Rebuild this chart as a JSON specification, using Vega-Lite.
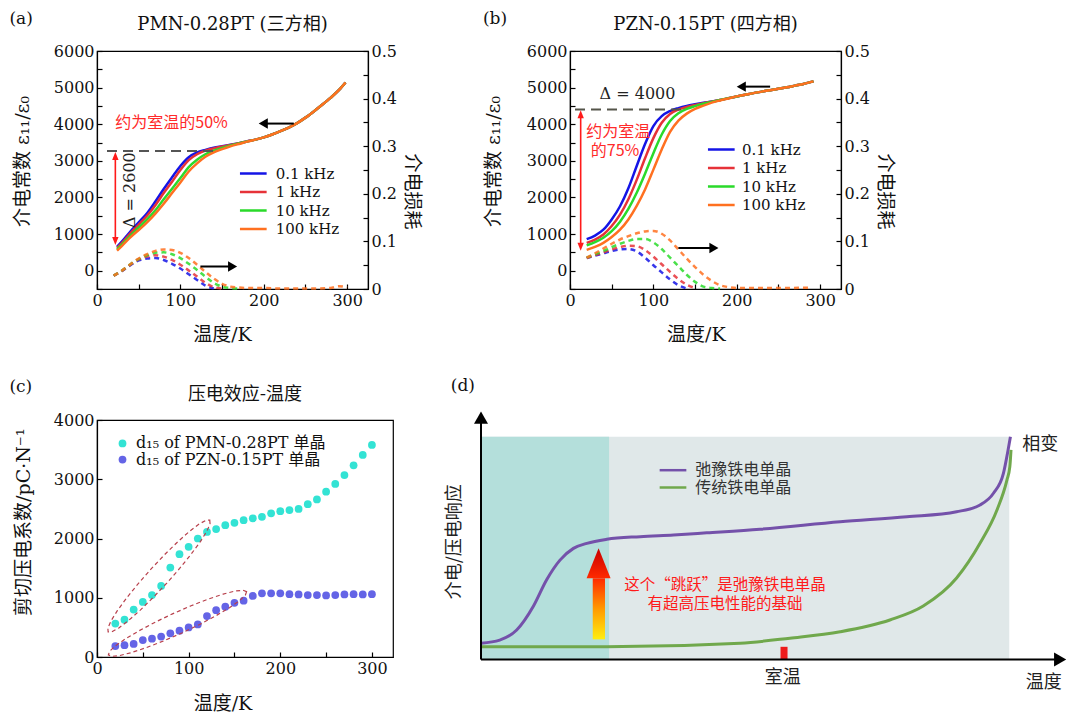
{
"$schema": "https://vega.github.io/schema/vega-lite/v6.json",
"background": "white",
"padding": {"left": 8, "top": 8, "right": 0, "bottom": 0},
"spacing": 31,
"resolve": {"scale": {"x": "independent", "y": "independent", "color": "independent"}, "legend": {"color": "independent"}},
"config": {
  "font": "DejaVu Serif, Noto Sans CJK SC",
  "view": {"stroke": "#000", "strokeWidth": 1.2},
  "axis": {"labelFont": "DejaVu Serif", "labelFontSize": 16, "labelColor": "#111", "titleFont": "DejaVu Serif, Noto Sans CJK SC", "titleFontSize": 19, "titleFontWeight": "normal", "titleColor": "#111", "titleBaseline": "middle", "tickSize": -5, "tickColor": "#000", "tickWidth": 1.2, "domainColor": "#000", "domainWidth": 1.2, "labelPadding": 8, "labelFlush": false, "labelOverlap": false, "grid": false},
  "legend": {"orient": "none", "padding": 0, "labelFont": "DejaVu Serif, Noto Sans CJK SC", "labelFontSize": 15, "labelColor": "#111", "labelOffset": 8, "labelLimit": 400, "rowPadding": 2.5}
},
"datasets": {
"a_eps": [
{"T":24,"eps":650,"f":"0.1 kHz"},{"T":30,"eps":800,"f":"0.1 kHz"},{"T":40,"eps":1070,"f":"0.1 kHz"},{"T":50,"eps":1320,"f":"0.1 kHz"},{"T":60,"eps":1570,"f":"0.1 kHz"},{"T":70,"eps":1890,"f":"0.1 kHz"},{"T":80,"eps":2230,"f":"0.1 kHz"},{"T":90,"eps":2550,"f":"0.1 kHz"},{"T":100,"eps":2860,"f":"0.1 kHz"},{"T":110,"eps":3100,"f":"0.1 kHz"},{"T":120,"eps":3230,"f":"0.1 kHz"},{"T":130,"eps":3300,"f":"0.1 kHz"},{"T":140,"eps":3360,"f":"0.1 kHz"},{"T":150,"eps":3400,"f":"0.1 kHz"},{"T":160,"eps":3440,"f":"0.1 kHz"},{"T":170,"eps":3480,"f":"0.1 kHz"},{"T":180,"eps":3530,"f":"0.1 kHz"},{"T":190,"eps":3580,"f":"0.1 kHz"},{"T":200,"eps":3640,"f":"0.1 kHz"},{"T":210,"eps":3720,"f":"0.1 kHz"},{"T":220,"eps":3810,"f":"0.1 kHz"},{"T":230,"eps":3910,"f":"0.1 kHz"},{"T":240,"eps":4030,"f":"0.1 kHz"},{"T":250,"eps":4180,"f":"0.1 kHz"},{"T":260,"eps":4350,"f":"0.1 kHz"},{"T":270,"eps":4530,"f":"0.1 kHz"},{"T":280,"eps":4720,"f":"0.1 kHz"},{"T":290,"eps":4930,"f":"0.1 kHz"},{"T":298,"eps":5140,"f":"0.1 kHz"},
{"T":24,"eps":620,"f":"1 kHz"},{"T":30,"eps":760,"f":"1 kHz"},{"T":40,"eps":1020,"f":"1 kHz"},{"T":50,"eps":1260,"f":"1 kHz"},{"T":60,"eps":1500,"f":"1 kHz"},{"T":70,"eps":1790,"f":"1 kHz"},{"T":80,"eps":2120,"f":"1 kHz"},{"T":90,"eps":2430,"f":"1 kHz"},{"T":100,"eps":2750,"f":"1 kHz"},{"T":110,"eps":3020,"f":"1 kHz"},{"T":120,"eps":3180,"f":"1 kHz"},{"T":130,"eps":3280,"f":"1 kHz"},{"T":140,"eps":3340,"f":"1 kHz"},{"T":150,"eps":3390,"f":"1 kHz"},{"T":160,"eps":3435,"f":"1 kHz"},{"T":170,"eps":3480,"f":"1 kHz"},{"T":180,"eps":3530,"f":"1 kHz"},{"T":190,"eps":3580,"f":"1 kHz"},{"T":200,"eps":3640,"f":"1 kHz"},{"T":210,"eps":3720,"f":"1 kHz"},{"T":220,"eps":3810,"f":"1 kHz"},{"T":230,"eps":3910,"f":"1 kHz"},{"T":240,"eps":4030,"f":"1 kHz"},{"T":250,"eps":4180,"f":"1 kHz"},{"T":260,"eps":4350,"f":"1 kHz"},{"T":270,"eps":4530,"f":"1 kHz"},{"T":280,"eps":4720,"f":"1 kHz"},{"T":290,"eps":4930,"f":"1 kHz"},{"T":298,"eps":5140,"f":"1 kHz"},
{"T":24,"eps":590,"f":"10 kHz"},{"T":30,"eps":720,"f":"10 kHz"},{"T":40,"eps":960,"f":"10 kHz"},{"T":50,"eps":1180,"f":"10 kHz"},{"T":60,"eps":1400,"f":"10 kHz"},{"T":70,"eps":1650,"f":"10 kHz"},{"T":80,"eps":1950,"f":"10 kHz"},{"T":90,"eps":2240,"f":"10 kHz"},{"T":100,"eps":2530,"f":"10 kHz"},{"T":110,"eps":2830,"f":"10 kHz"},{"T":120,"eps":3030,"f":"10 kHz"},{"T":130,"eps":3180,"f":"10 kHz"},{"T":140,"eps":3280,"f":"10 kHz"},{"T":150,"eps":3355,"f":"10 kHz"},{"T":160,"eps":3420,"f":"10 kHz"},{"T":170,"eps":3475,"f":"10 kHz"},{"T":180,"eps":3530,"f":"10 kHz"},{"T":190,"eps":3580,"f":"10 kHz"},{"T":200,"eps":3640,"f":"10 kHz"},{"T":210,"eps":3720,"f":"10 kHz"},{"T":220,"eps":3810,"f":"10 kHz"},{"T":230,"eps":3910,"f":"10 kHz"},{"T":240,"eps":4030,"f":"10 kHz"},{"T":250,"eps":4180,"f":"10 kHz"},{"T":260,"eps":4350,"f":"10 kHz"},{"T":270,"eps":4530,"f":"10 kHz"},{"T":280,"eps":4720,"f":"10 kHz"},{"T":290,"eps":4930,"f":"10 kHz"},{"T":298,"eps":5140,"f":"10 kHz"},
{"T":24,"eps":550,"f":"100 kHz"},{"T":30,"eps":680,"f":"100 kHz"},{"T":40,"eps":910,"f":"100 kHz"},{"T":50,"eps":1110,"f":"100 kHz"},{"T":60,"eps":1320,"f":"100 kHz"},{"T":70,"eps":1560,"f":"100 kHz"},{"T":80,"eps":1830,"f":"100 kHz"},{"T":90,"eps":2120,"f":"100 kHz"},{"T":100,"eps":2410,"f":"100 kHz"},{"T":110,"eps":2710,"f":"100 kHz"},{"T":120,"eps":2930,"f":"100 kHz"},{"T":130,"eps":3110,"f":"100 kHz"},{"T":140,"eps":3230,"f":"100 kHz"},{"T":150,"eps":3320,"f":"100 kHz"},{"T":160,"eps":3400,"f":"100 kHz"},{"T":170,"eps":3460,"f":"100 kHz"},{"T":180,"eps":3525,"f":"100 kHz"},{"T":190,"eps":3580,"f":"100 kHz"},{"T":200,"eps":3640,"f":"100 kHz"},{"T":210,"eps":3720,"f":"100 kHz"},{"T":220,"eps":3810,"f":"100 kHz"},{"T":230,"eps":3910,"f":"100 kHz"},{"T":240,"eps":4030,"f":"100 kHz"},{"T":250,"eps":4180,"f":"100 kHz"},{"T":260,"eps":4350,"f":"100 kHz"},{"T":270,"eps":4530,"f":"100 kHz"},{"T":280,"eps":4720,"f":"100 kHz"},{"T":290,"eps":4930,"f":"100 kHz"},{"T":298,"eps":5140,"f":"100 kHz"}
],
"a_loss": [
{"T":20,"loss":0.028,"f":"0.1 kHz"},{"T":30,"loss":0.038,"f":"0.1 kHz"},{"T":40,"loss":0.05,"f":"0.1 kHz"},{"T":50,"loss":0.06,"f":"0.1 kHz"},{"T":60,"loss":0.064,"f":"0.1 kHz"},{"T":70,"loss":0.065,"f":"0.1 kHz"},{"T":80,"loss":0.061,"f":"0.1 kHz"},{"T":90,"loss":0.053,"f":"0.1 kHz"},{"T":100,"loss":0.043,"f":"0.1 kHz"},{"T":110,"loss":0.031,"f":"0.1 kHz"},{"T":120,"loss":0.019,"f":"0.1 kHz"},{"T":130,"loss":0.007,"f":"0.1 kHz"},{"T":140,"loss":0.001,"f":"0.1 kHz"},
{"T":20,"loss":0.028,"f":"1 kHz"},{"T":30,"loss":0.038,"f":"1 kHz"},{"T":40,"loss":0.051,"f":"1 kHz"},{"T":50,"loss":0.062,"f":"1 kHz"},{"T":60,"loss":0.068,"f":"1 kHz"},{"T":70,"loss":0.071,"f":"1 kHz"},{"T":80,"loss":0.068,"f":"1 kHz"},{"T":90,"loss":0.061,"f":"1 kHz"},{"T":100,"loss":0.051,"f":"1 kHz"},{"T":110,"loss":0.039,"f":"1 kHz"},{"T":120,"loss":0.026,"f":"1 kHz"},{"T":130,"loss":0.013,"f":"1 kHz"},{"T":140,"loss":0.004,"f":"1 kHz"},{"T":150,"loss":0.001,"f":"1 kHz"},
{"T":20,"loss":0.028,"f":"10 kHz"},{"T":30,"loss":0.039,"f":"10 kHz"},{"T":40,"loss":0.052,"f":"10 kHz"},{"T":50,"loss":0.063,"f":"10 kHz"},{"T":60,"loss":0.071,"f":"10 kHz"},{"T":70,"loss":0.076,"f":"10 kHz"},{"T":80,"loss":0.077,"f":"10 kHz"},{"T":90,"loss":0.073,"f":"10 kHz"},{"T":100,"loss":0.065,"f":"10 kHz"},{"T":110,"loss":0.053,"f":"10 kHz"},{"T":120,"loss":0.04,"f":"10 kHz"},{"T":130,"loss":0.026,"f":"10 kHz"},{"T":140,"loss":0.013,"f":"10 kHz"},{"T":150,"loss":0.005,"f":"10 kHz"},{"T":160,"loss":0.002,"f":"10 kHz"},{"T":170,"loss":0.001,"f":"10 kHz"},
{"T":20,"loss":0.028,"f":"100 kHz"},{"T":30,"loss":0.039,"f":"100 kHz"},{"T":40,"loss":0.052,"f":"100 kHz"},{"T":50,"loss":0.064,"f":"100 kHz"},{"T":60,"loss":0.073,"f":"100 kHz"},{"T":70,"loss":0.08,"f":"100 kHz"},{"T":80,"loss":0.083,"f":"100 kHz"},{"T":90,"loss":0.082,"f":"100 kHz"},{"T":100,"loss":0.076,"f":"100 kHz"},{"T":110,"loss":0.065,"f":"100 kHz"},{"T":120,"loss":0.051,"f":"100 kHz"},{"T":130,"loss":0.036,"f":"100 kHz"},{"T":140,"loss":0.022,"f":"100 kHz"},{"T":150,"loss":0.011,"f":"100 kHz"},{"T":160,"loss":0.005,"f":"100 kHz"},{"T":170,"loss":0.003,"f":"100 kHz"},{"T":180,"loss":0.002,"f":"100 kHz"},{"T":200,"loss":0.002,"f":"100 kHz"},{"T":220,"loss":0.001,"f":"100 kHz"},{"T":240,"loss":0.001,"f":"100 kHz"},{"T":260,"loss":0.001,"f":"100 kHz"},{"T":280,"loss":0.002,"f":"100 kHz"},{"T":290,"loss":0.006,"f":"100 kHz"},{"T":300,"loss":0.003,"f":"100 kHz"}
],
"b_eps": [
{"T":20,"eps":860,"f":"0.1 kHz"},{"T":30,"eps":960,"f":"0.1 kHz"},{"T":40,"eps":1120,"f":"0.1 kHz"},{"T":50,"eps":1400,"f":"0.1 kHz"},{"T":60,"eps":1760,"f":"0.1 kHz"},{"T":70,"eps":2250,"f":"0.1 kHz"},{"T":80,"eps":2860,"f":"0.1 kHz"},{"T":90,"eps":3460,"f":"0.1 kHz"},{"T":100,"eps":3950,"f":"0.1 kHz"},{"T":110,"eps":4220,"f":"0.1 kHz"},{"T":120,"eps":4360,"f":"0.1 kHz"},{"T":130,"eps":4440,"f":"0.1 kHz"},{"T":140,"eps":4500,"f":"0.1 kHz"},{"T":150,"eps":4545,"f":"0.1 kHz"},{"T":160,"eps":4585,"f":"0.1 kHz"},{"T":170,"eps":4620,"f":"0.1 kHz"},{"T":180,"eps":4660,"f":"0.1 kHz"},{"T":190,"eps":4710,"f":"0.1 kHz"},{"T":200,"eps":4760,"f":"0.1 kHz"},{"T":210,"eps":4805,"f":"0.1 kHz"},{"T":220,"eps":4850,"f":"0.1 kHz"},{"T":230,"eps":4890,"f":"0.1 kHz"},{"T":240,"eps":4930,"f":"0.1 kHz"},{"T":250,"eps":4970,"f":"0.1 kHz"},{"T":260,"eps":5010,"f":"0.1 kHz"},{"T":270,"eps":5055,"f":"0.1 kHz"},{"T":280,"eps":5100,"f":"0.1 kHz"},{"T":292,"eps":5170,"f":"0.1 kHz"},
{"T":20,"eps":760,"f":"1 kHz"},{"T":30,"eps":850,"f":"1 kHz"},{"T":40,"eps":990,"f":"1 kHz"},{"T":50,"eps":1220,"f":"1 kHz"},{"T":60,"eps":1530,"f":"1 kHz"},{"T":70,"eps":1950,"f":"1 kHz"},{"T":80,"eps":2480,"f":"1 kHz"},{"T":90,"eps":3070,"f":"1 kHz"},{"T":100,"eps":3620,"f":"1 kHz"},{"T":110,"eps":4040,"f":"1 kHz"},{"T":120,"eps":4280,"f":"1 kHz"},{"T":130,"eps":4400,"f":"1 kHz"},{"T":140,"eps":4470,"f":"1 kHz"},{"T":150,"eps":4525,"f":"1 kHz"},{"T":160,"eps":4575,"f":"1 kHz"},{"T":170,"eps":4615,"f":"1 kHz"},{"T":180,"eps":4660,"f":"1 kHz"},{"T":190,"eps":4710,"f":"1 kHz"},{"T":200,"eps":4760,"f":"1 kHz"},{"T":210,"eps":4805,"f":"1 kHz"},{"T":220,"eps":4850,"f":"1 kHz"},{"T":230,"eps":4890,"f":"1 kHz"},{"T":240,"eps":4930,"f":"1 kHz"},{"T":250,"eps":4970,"f":"1 kHz"},{"T":260,"eps":5010,"f":"1 kHz"},{"T":270,"eps":5055,"f":"1 kHz"},{"T":280,"eps":5100,"f":"1 kHz"},{"T":292,"eps":5170,"f":"1 kHz"},
{"T":20,"eps":690,"f":"10 kHz"},{"T":30,"eps":780,"f":"10 kHz"},{"T":40,"eps":900,"f":"10 kHz"},{"T":50,"eps":1080,"f":"10 kHz"},{"T":60,"eps":1340,"f":"10 kHz"},{"T":70,"eps":1690,"f":"10 kHz"},{"T":80,"eps":2130,"f":"10 kHz"},{"T":90,"eps":2650,"f":"10 kHz"},{"T":100,"eps":3210,"f":"10 kHz"},{"T":110,"eps":3720,"f":"10 kHz"},{"T":120,"eps":4090,"f":"10 kHz"},{"T":130,"eps":4300,"f":"10 kHz"},{"T":140,"eps":4420,"f":"10 kHz"},{"T":150,"eps":4495,"f":"10 kHz"},{"T":160,"eps":4560,"f":"10 kHz"},{"T":170,"eps":4610,"f":"10 kHz"},{"T":180,"eps":4660,"f":"10 kHz"},{"T":190,"eps":4710,"f":"10 kHz"},{"T":200,"eps":4760,"f":"10 kHz"},{"T":210,"eps":4805,"f":"10 kHz"},{"T":220,"eps":4850,"f":"10 kHz"},{"T":230,"eps":4890,"f":"10 kHz"},{"T":240,"eps":4930,"f":"10 kHz"},{"T":250,"eps":4970,"f":"10 kHz"},{"T":260,"eps":5010,"f":"10 kHz"},{"T":270,"eps":5055,"f":"10 kHz"},{"T":280,"eps":5100,"f":"10 kHz"},{"T":292,"eps":5170,"f":"10 kHz"},
{"T":20,"eps":570,"f":"100 kHz"},{"T":30,"eps":650,"f":"100 kHz"},{"T":40,"eps":760,"f":"100 kHz"},{"T":50,"eps":920,"f":"100 kHz"},{"T":60,"eps":1120,"f":"100 kHz"},{"T":70,"eps":1400,"f":"100 kHz"},{"T":80,"eps":1770,"f":"100 kHz"},{"T":90,"eps":2220,"f":"100 kHz"},{"T":100,"eps":2760,"f":"100 kHz"},{"T":110,"eps":3310,"f":"100 kHz"},{"T":120,"eps":3790,"f":"100 kHz"},{"T":130,"eps":4100,"f":"100 kHz"},{"T":140,"eps":4290,"f":"100 kHz"},{"T":150,"eps":4420,"f":"100 kHz"},{"T":160,"eps":4510,"f":"100 kHz"},{"T":170,"eps":4590,"f":"100 kHz"},{"T":180,"eps":4650,"f":"100 kHz"},{"T":190,"eps":4705,"f":"100 kHz"},{"T":200,"eps":4760,"f":"100 kHz"},{"T":210,"eps":4805,"f":"100 kHz"},{"T":220,"eps":4850,"f":"100 kHz"},{"T":230,"eps":4890,"f":"100 kHz"},{"T":240,"eps":4930,"f":"100 kHz"},{"T":250,"eps":4970,"f":"100 kHz"},{"T":260,"eps":5010,"f":"100 kHz"},{"T":270,"eps":5055,"f":"100 kHz"},{"T":280,"eps":5100,"f":"100 kHz"},{"T":292,"eps":5170,"f":"100 kHz"}
],
"b_loss": [
{"T":20,"loss":0.065,"f":"0.1 kHz"},{"T":30,"loss":0.07,"f":"0.1 kHz"},{"T":40,"loss":0.075,"f":"0.1 kHz"},{"T":50,"loss":0.08,"f":"0.1 kHz"},{"T":60,"loss":0.083,"f":"0.1 kHz"},{"T":70,"loss":0.084,"f":"0.1 kHz"},{"T":80,"loss":0.079,"f":"0.1 kHz"},{"T":90,"loss":0.066,"f":"0.1 kHz"},{"T":100,"loss":0.05,"f":"0.1 kHz"},{"T":110,"loss":0.035,"f":"0.1 kHz"},{"T":120,"loss":0.02,"f":"0.1 kHz"},{"T":130,"loss":0.008,"f":"0.1 kHz"},{"T":140,"loss":0.001,"f":"0.1 kHz"},
{"T":20,"loss":0.065,"f":"1 kHz"},{"T":30,"loss":0.071,"f":"1 kHz"},{"T":40,"loss":0.077,"f":"1 kHz"},{"T":50,"loss":0.083,"f":"1 kHz"},{"T":60,"loss":0.088,"f":"1 kHz"},{"T":70,"loss":0.091,"f":"1 kHz"},{"T":80,"loss":0.09,"f":"1 kHz"},{"T":90,"loss":0.082,"f":"1 kHz"},{"T":100,"loss":0.068,"f":"1 kHz"},{"T":110,"loss":0.052,"f":"1 kHz"},{"T":120,"loss":0.036,"f":"1 kHz"},{"T":130,"loss":0.021,"f":"1 kHz"},{"T":140,"loss":0.009,"f":"1 kHz"},{"T":150,"loss":0.002,"f":"1 kHz"},
{"T":20,"loss":0.066,"f":"10 kHz"},{"T":30,"loss":0.073,"f":"10 kHz"},{"T":40,"loss":0.08,"f":"10 kHz"},{"T":50,"loss":0.088,"f":"10 kHz"},{"T":60,"loss":0.095,"f":"10 kHz"},{"T":70,"loss":0.101,"f":"10 kHz"},{"T":80,"loss":0.105,"f":"10 kHz"},{"T":90,"loss":0.105,"f":"10 kHz"},{"T":100,"loss":0.098,"f":"10 kHz"},{"T":110,"loss":0.084,"f":"10 kHz"},{"T":120,"loss":0.066,"f":"10 kHz"},{"T":130,"loss":0.048,"f":"10 kHz"},{"T":140,"loss":0.03,"f":"10 kHz"},{"T":150,"loss":0.015,"f":"10 kHz"},{"T":160,"loss":0.005,"f":"10 kHz"},{"T":170,"loss":0.002,"f":"10 kHz"},{"T":180,"loss":0.001,"f":"10 kHz"},
{"T":20,"loss":0.066,"f":"100 kHz"},{"T":30,"loss":0.075,"f":"100 kHz"},{"T":40,"loss":0.085,"f":"100 kHz"},{"T":50,"loss":0.095,"f":"100 kHz"},{"T":60,"loss":0.104,"f":"100 kHz"},{"T":70,"loss":0.111,"f":"100 kHz"},{"T":80,"loss":0.117,"f":"100 kHz"},{"T":90,"loss":0.121,"f":"100 kHz"},{"T":100,"loss":0.122,"f":"100 kHz"},{"T":110,"loss":0.116,"f":"100 kHz"},{"T":120,"loss":0.102,"f":"100 kHz"},{"T":130,"loss":0.083,"f":"100 kHz"},{"T":140,"loss":0.064,"f":"100 kHz"},{"T":150,"loss":0.046,"f":"100 kHz"},{"T":160,"loss":0.03,"f":"100 kHz"},{"T":170,"loss":0.017,"f":"100 kHz"},{"T":180,"loss":0.008,"f":"100 kHz"},{"T":190,"loss":0.004,"f":"100 kHz"},{"T":200,"loss":0.002,"f":"100 kHz"},{"T":250,"loss":0.002,"f":"100 kHz"},{"T":290,"loss":0.003,"f":"100 kHz"}
],
"c_d15": [
{"T":20,"d":565,"s":"d₁₅ of PMN-0.28PT 单晶"},{"T":30,"d":630,"s":"d₁₅ of PMN-0.28PT 单晶"},{"T":40,"d":800,"s":"d₁₅ of PMN-0.28PT 单晶"},{"T":50,"d":930,"s":"d₁₅ of PMN-0.28PT 单晶"},{"T":60,"d":1045,"s":"d₁₅ of PMN-0.28PT 单晶"},{"T":70,"d":1200,"s":"d₁₅ of PMN-0.28PT 单晶"},{"T":80,"d":1510,"s":"d₁₅ of PMN-0.28PT 单晶"},{"T":90,"d":1735,"s":"d₁₅ of PMN-0.28PT 单晶"},{"T":100,"d":1860,"s":"d₁₅ of PMN-0.28PT 单晶"},{"T":110,"d":2000,"s":"d₁₅ of PMN-0.28PT 单晶"},{"T":120,"d":2110,"s":"d₁₅ of PMN-0.28PT 单晶"},{"T":130,"d":2160,"s":"d₁₅ of PMN-0.28PT 单晶"},{"T":140,"d":2225,"s":"d₁₅ of PMN-0.28PT 单晶"},{"T":150,"d":2265,"s":"d₁₅ of PMN-0.28PT 单晶"},{"T":160,"d":2310,"s":"d₁₅ of PMN-0.28PT 单晶"},{"T":170,"d":2340,"s":"d₁₅ of PMN-0.28PT 单晶"},{"T":180,"d":2365,"s":"d₁₅ of PMN-0.28PT 单晶"},{"T":190,"d":2425,"s":"d₁₅ of PMN-0.28PT 单晶"},{"T":200,"d":2460,"s":"d₁₅ of PMN-0.28PT 单晶"},{"T":210,"d":2480,"s":"d₁₅ of PMN-0.28PT 单晶"},{"T":220,"d":2500,"s":"d₁₅ of PMN-0.28PT 单晶"},{"T":230,"d":2580,"s":"d₁₅ of PMN-0.28PT 单晶"},{"T":240,"d":2660,"s":"d₁₅ of PMN-0.28PT 单晶"},{"T":250,"d":2790,"s":"d₁₅ of PMN-0.28PT 单晶"},{"T":260,"d":2920,"s":"d₁₅ of PMN-0.28PT 单晶"},{"T":270,"d":3070,"s":"d₁₅ of PMN-0.28PT 单晶"},{"T":280,"d":3235,"s":"d₁₅ of PMN-0.28PT 单晶"},{"T":290,"d":3410,"s":"d₁₅ of PMN-0.28PT 单晶"},{"T":300,"d":3580,"s":"d₁₅ of PMN-0.28PT 单晶"},
{"T":20,"d":185,"s":"d₁₅ of PZN-0.15PT 单晶"},{"T":30,"d":200,"s":"d₁₅ of PZN-0.15PT 单晶"},{"T":40,"d":220,"s":"d₁₅ of PZN-0.15PT 单晶"},{"T":50,"d":285,"s":"d₁₅ of PZN-0.15PT 单晶"},{"T":60,"d":310,"s":"d₁₅ of PZN-0.15PT 单晶"},{"T":70,"d":345,"s":"d₁₅ of PZN-0.15PT 单晶"},{"T":80,"d":400,"s":"d₁₅ of PZN-0.15PT 单晶"},{"T":90,"d":445,"s":"d₁₅ of PZN-0.15PT 单晶"},{"T":100,"d":500,"s":"d₁₅ of PZN-0.15PT 单晶"},{"T":110,"d":550,"s":"d₁₅ of PZN-0.15PT 单晶"},{"T":120,"d":690,"s":"d₁₅ of PZN-0.15PT 单晶"},{"T":130,"d":790,"s":"d₁₅ of PZN-0.15PT 单晶"},{"T":140,"d":850,"s":"d₁₅ of PZN-0.15PT 单晶"},{"T":150,"d":915,"s":"d₁₅ of PZN-0.15PT 单晶"},{"T":160,"d":950,"s":"d₁₅ of PZN-0.15PT 单晶"},{"T":170,"d":1030,"s":"d₁₅ of PZN-0.15PT 单晶"},{"T":180,"d":1075,"s":"d₁₅ of PZN-0.15PT 单晶"},{"T":190,"d":1075,"s":"d₁₅ of PZN-0.15PT 单晶"},{"T":200,"d":1075,"s":"d₁₅ of PZN-0.15PT 单晶"},{"T":210,"d":1060,"s":"d₁₅ of PZN-0.15PT 单晶"},{"T":220,"d":1055,"s":"d₁₅ of PZN-0.15PT 单晶"},{"T":230,"d":1045,"s":"d₁₅ of PZN-0.15PT 单晶"},{"T":240,"d":1045,"s":"d₁₅ of PZN-0.15PT 单晶"},{"T":250,"d":1040,"s":"d₁₅ of PZN-0.15PT 单晶"},{"T":260,"d":1045,"s":"d₁₅ of PZN-0.15PT 单晶"},{"T":270,"d":1055,"s":"d₁₅ of PZN-0.15PT 单晶"},{"T":280,"d":1060,"s":"d₁₅ of PZN-0.15PT 单晶"},{"T":290,"d":1055,"s":"d₁₅ of PZN-0.15PT 单晶"},{"T":300,"d":1060,"s":"d₁₅ of PZN-0.15PT 单晶"}
],
"d_curves": [
{"x":0,"y":6.8,"s":"弛豫铁电单晶"},{"x":3.2,"y":8.1,"s":"弛豫铁电单晶"},{"x":6.1,"y":12.3,"s":"弛豫铁电单晶"},{"x":8.9,"y":22.0,"s":"弛豫铁电单晶"},{"x":11.2,"y":33.2,"s":"弛豫铁电单晶"},{"x":13.5,"y":41.5,"s":"弛豫铁电单晶"},{"x":15.8,"y":46.4,"s":"弛豫铁电单晶"},{"x":18.1,"y":48.5,"s":"弛豫铁电单晶"},{"x":21.5,"y":50.2,"s":"弛豫铁电单晶"},{"x":27.2,"y":51.3,"s":"弛豫铁电单晶"},{"x":32.9,"y":52.0,"s":"弛豫铁电单晶"},{"x":38.6,"y":52.9,"s":"弛豫铁电单晶"},{"x":47.7,"y":54.4,"s":"弛豫铁电单晶"},{"x":61.4,"y":57.5,"s":"弛豫铁电单晶"},{"x":72.8,"y":59.6,"s":"弛豫铁电单晶"},{"x":81.3,"y":61.7,"s":"弛豫铁电单晶"},{"x":85.3,"y":64.5,"s":"弛豫铁电单晶"},{"x":87.6,"y":69.4,"s":"弛豫铁电单晶"},{"x":89.3,"y":77.7,"s":"弛豫铁电单晶"},{"x":90.1,"y":87.5,"s":"弛豫铁电单晶"},{"x":90.5,"y":93.0,"s":"弛豫铁电单晶"},
{"x":0,"y":5.3,"s":"传统铁电单晶"},{"x":21.5,"y":5.3,"s":"传统铁电单晶"},{"x":44.3,"y":6.8,"s":"传统铁电单晶"},{"x":52.8,"y":8.9,"s":"传统铁电单晶"},{"x":61.4,"y":11.6,"s":"传统铁电单晶"},{"x":69.9,"y":16.5,"s":"传统铁电单晶"},{"x":75.6,"y":22.3,"s":"传统铁电单晶"},{"x":81.3,"y":34.0,"s":"传统铁电单晶"},{"x":85.3,"y":48.5,"s":"传统铁电单晶"},{"x":88.2,"y":62.4,"s":"传统铁电单晶"},{"x":89.9,"y":74.9,"s":"传统铁电单晶"},{"x":90.4,"y":80.5,"s":"传统铁电单晶"},{"x":90.6,"y":87.5,"s":"传统铁电单晶"}
]
},
"vconcat": [
{"bounds": "flush", "spacing": 202,
 "resolve": {"scale": {"x": "independent", "y": "independent", "color": "independent"}, "legend": {"color": "independent"}},
 "hconcat": [
 {"width": 271, "height": 238,
  "resolve": {"scale": {"y": "independent"}},
  "layer": [
     {"data": {"name": "a_eps"},
      "mark": {"type": "line", "strokeWidth": 2.5, "interpolate": "monotone"},
      "encoding": {
        "x": {"field": "T", "type": "quantitative", "scale": {"domain": [0, 325], "nice": false},
              "axis": {"title": "温度/K", "values": [0,25,50,75,100,125,150,175,200,225,250,275,300], "labelExpr": "datum.value % 100 === 0 ? datum.label : ''", "titleX": 125, "titleY": 45}},
        "y": {"field": "eps", "type": "quantitative", "scale": {"domain": [-500, 6000], "nice": false},
              "axis": {"title": "介电常数 ε₁₁/ε₀", "orient": "left", "format": "d", "values": [-500,0,500,1000,1500,2000,2500,3000,3500,4000,4500,5000,5500,6000], "labelExpr": "datum.value % 1000 === 0 ? datum.label : ''", "titleX": -75, "titleY": 110}},
        "color": {"field": "f", "type": "nominal", "scale": {"domain": ["0.1 kHz","1 kHz","10 kHz","100 kHz"], "range": ["#1414e6","#e63238","#2ada2a","#ff7020"]},
                  "legend": {"title": null, "legendX": 148.3, "legendY": 114.5, "symbolType": "M-2,0L2,0", "symbolSize": 178, "symbolStrokeWidth": 2.5, "labelOffset": 14.35}}
      }},
     {"data": {"name": "a_loss"},
      "mark": {"type": "line", "strokeWidth": 2.5, "strokeDash": [5, 4], "interpolate": "monotone", "opacity": 0.85},
      "encoding": {
        "x": {"field": "T", "type": "quantitative", "scale": {"domain": [0, 325], "nice": false}},
        "y": {"field": "loss", "type": "quantitative", "scale": {"domain": [0, 0.5], "nice": false},
              "axis": {"title": "介电损耗", "orient": "right", "values": [0,0.05,0.1,0.15,0.2,0.25,0.3,0.35,0.4,0.45,0.5], "labelExpr": "round(datum.value*100) % 10 === 0 ? (datum.value === 0 ? '0' : format(datum.value, '.1f')) : ''", "titleX": 43.5, "titleY": 140}},
        "color": {"field": "f", "type": "nominal", "legend": null}
      }},
     {"data": {"values": [{}]}, "mark": {"type": "rule", "color": "#555555", "strokeDash": [10, 6], "strokeWidth": 2},
      "encoding": {"x": {"datum": 12, "type": "quantitative", "scale": {"domain": [0, 325], "nice": false}}, "x2": {"datum": 140},
                   "y": {"datum": 3270, "type": "quantitative", "scale": {"domain": [-500, 6000], "nice": false}, "axis": null}}},
     {"data": {"values": [{}]}, "mark": {"type": "rule", "color": "#ff1a1a", "strokeWidth": 1.6},
      "encoding": {"x": {"datum": 22, "type": "quantitative", "scale": {"domain": [0, 325], "nice": false}},
                   "y": {"datum": 3131, "type": "quantitative", "scale": {"domain": [-500, 6000], "nice": false}, "axis": null}, "y2": {"datum": 810}}},
     {"data": {"values": [{}]}, "mark": {"type": "point", "shape": "M0,-1L0.8,1L-0.8,1Z", "size": 64, "filled": true, "opacity": 1, "color": "#ff1a1a"},
      "encoding": {"x": {"datum": 22, "type": "quantitative", "scale": {"domain": [0, 325], "nice": false}},
                   "y": {"datum": 3131, "type": "quantitative", "scale": {"domain": [-500, 6000], "nice": false}, "axis": null}}},
     {"data": {"values": [{}]}, "mark": {"type": "point", "shape": "M0,1L0.8,-1L-0.8,-1Z", "size": 64, "filled": true, "opacity": 1, "color": "#ff1a1a"},
      "encoding": {"x": {"datum": 22, "type": "quantitative", "scale": {"domain": [0, 325], "nice": false}},
                   "y": {"datum": 810, "type": "quantitative", "scale": {"domain": [-500, 6000], "nice": false}, "axis": null}}},
     {"data": {"values": [{}]}, "mark": {"type": "text", "text": "Δ = 2600", "angle": 270, "font": "DejaVu Serif", "fontSize": 16, "color": "#222", "align": "center", "baseline": "middle"},
      "encoding": {"x": {"datum": 39, "type": "quantitative", "scale": {"domain": [0, 325], "nice": false}},
                   "y": {"datum": 2200, "type": "quantitative", "scale": {"domain": [-500, 6000], "nice": false}, "axis": null}}},
     {"data": {"values": [{}]}, "mark": {"type": "text", "text": "约为室温的50%", "font": "Noto Sans CJK SC", "fontSize": 16, "color": "#ff2a2a", "align": "left", "baseline": "middle"},
      "encoding": {"x": {"datum": 22, "type": "quantitative", "scale": {"domain": [0, 325], "nice": false}},
                   "y": {"datum": 4045, "type": "quantitative", "scale": {"domain": [-500, 6000], "nice": false}, "axis": null}}},
     {"data": {"values": [{}]}, "mark": {"type": "rule", "color": "#000", "strokeWidth": 2},
      "encoding": {"x": {"datum": 199, "type": "quantitative", "scale": {"domain": [0, 325], "nice": false}}, "x2": {"datum": 236},
                   "y": {"datum": 4018, "type": "quantitative", "scale": {"domain": [-500, 6000], "nice": false}, "axis": null}}},
     {"data": {"values": [{}]}, "mark": {"type": "point", "shape": "triangle-left", "size": 110, "filled": true, "opacity": 1, "color": "#000"},
      "encoding": {"x": {"datum": 199.4, "type": "quantitative", "scale": {"domain": [0, 325], "nice": false}},
                   "y": {"datum": 4018, "type": "quantitative", "scale": {"domain": [-500, 6000], "nice": false}, "axis": null}}},
     {"data": {"values": [{}]}, "mark": {"type": "rule", "color": "#000", "strokeWidth": 2},
      "encoding": {"x": {"datum": 124, "type": "quantitative", "scale": {"domain": [0, 325], "nice": false}}, "x2": {"datum": 163},
                   "y": {"datum": 117, "type": "quantitative", "scale": {"domain": [-500, 6000], "nice": false}, "axis": null}}},
     {"data": {"values": [{}]}, "mark": {"type": "point", "shape": "triangle-right", "size": 110, "filled": true, "opacity": 1, "color": "#000"},
      "encoding": {"x": {"datum": 162.6, "type": "quantitative", "scale": {"domain": [0, 325], "nice": false}},
                   "y": {"datum": 117, "type": "quantitative", "scale": {"domain": [-500, 6000], "nice": false}, "axis": null}}},
     {"data": {"values": [{}]}, "mark": {"type": "text", "text": "PMN-0.28PT (三方相)", "font": "DejaVu Serif, Noto Sans CJK SC", "fontSize": 18, "color": "#111", "align": "center", "baseline": "middle"},
      "encoding": {"x": {"datum": 162.5, "type": "quantitative", "scale": {"domain": [0, 325], "nice": false}},
                   "y": {"datum": 6700, "type": "quantitative", "scale": {"domain": [-500, 6000], "nice": false}, "axis": null}}},
     {"data": {"values": [{}]}, "mark": {"type": "text", "text": "(a)", "font": "DejaVu Serif", "fontSize": 17, "color": "#111", "align": "center", "baseline": "middle"},
      "encoding": {"x": {"datum": -91, "type": "quantitative", "scale": {"domain": [0, 325], "nice": false}},
                   "y": {"datum": 6886, "type": "quantitative", "scale": {"domain": [-500, 6000], "nice": false}, "axis": null}}}
  ]},
 {"width": 271, "height": 238,
  "resolve": {"scale": {"y": "independent"}},
  "layer": [
     {"data": {"name": "b_eps"},
      "mark": {"type": "line", "strokeWidth": 2.5, "interpolate": "monotone"},
      "encoding": {
        "x": {"field": "T", "type": "quantitative", "scale": {"domain": [0, 325], "nice": false},
              "axis": {"title": "温度/K", "values": [0,25,50,75,100,125,150,175,200,225,250,275,300], "labelExpr": "datum.value % 100 === 0 ? datum.label : ''", "titleX": 125.8, "titleY": 45}},
        "y": {"field": "eps", "type": "quantitative", "scale": {"domain": [-500, 6000], "nice": false},
              "axis": {"title": "介电常数 ε₁₁/ε₀", "orient": "left", "format": "d", "values": [-500,0,500,1000,1500,2000,2500,3000,3500,4000,4500,5000,5500,6000], "labelExpr": "datum.value % 1000 === 0 ? datum.label : ''", "titleX": -76.7, "titleY": 110}},
        "color": {"field": "f", "type": "nominal", "scale": {"domain": ["0.1 kHz","1 kHz","10 kHz","100 kHz"], "range": ["#1414e6","#e63238","#2ada2a","#ff7020"]},
                  "legend": {"title": null, "legendX": 143.3, "legendY": 90.5, "symbolType": "M-2,0L2,0", "symbolSize": 178, "symbolStrokeWidth": 2.5, "labelOffset": 12.65}}
      }},
     {"data": {"name": "b_loss"},
      "mark": {"type": "line", "strokeWidth": 2.5, "strokeDash": [5, 4], "interpolate": "monotone", "opacity": 0.85},
      "encoding": {
        "x": {"field": "T", "type": "quantitative", "scale": {"domain": [0, 325], "nice": false}},
        "y": {"field": "loss", "type": "quantitative", "scale": {"domain": [0, 0.5], "nice": false},
              "axis": {"title": "介电损耗", "orient": "right", "values": [0,0.05,0.1,0.15,0.2,0.25,0.3,0.35,0.4,0.45,0.5], "labelExpr": "round(datum.value*100) % 10 === 0 ? (datum.value === 0 ? '0' : format(datum.value, '.1f')) : ''", "titleX": 43.5, "titleY": 140}},
        "color": {"field": "f", "type": "nominal", "legend": null}
      }},
     {"data": {"values": [{}]}, "mark": {"type": "rule", "color": "#55554a", "strokeDash": [10, 6], "strokeWidth": 2},
      "encoding": {"x": {"datum": 6, "type": "quantitative", "scale": {"domain": [0, 325], "nice": false}}, "x2": {"datum": 140},
                   "y": {"datum": 4400, "type": "quantitative", "scale": {"domain": [-500, 6000], "nice": false}, "axis": null}}},
     {"data": {"values": [{}]}, "mark": {"type": "rule", "color": "#ff1a1a", "strokeWidth": 1.6},
      "encoding": {"x": {"datum": 12.8, "type": "quantitative", "scale": {"domain": [0, 325], "nice": false}},
                   "y": {"datum": 4271, "type": "quantitative", "scale": {"domain": [-500, 6000], "nice": false}, "axis": null}, "y2": {"datum": 654}}},
     {"data": {"values": [{}]}, "mark": {"type": "point", "shape": "M0,-1L0.8,1L-0.8,1Z", "size": 64, "filled": true, "opacity": 1, "color": "#ff1a1a"},
      "encoding": {"x": {"datum": 12.8, "type": "quantitative", "scale": {"domain": [0, 325], "nice": false}},
                   "y": {"datum": 4271, "type": "quantitative", "scale": {"domain": [-500, 6000], "nice": false}, "axis": null}}},
     {"data": {"values": [{}]}, "mark": {"type": "point", "shape": "M0,1L0.8,-1L-0.8,-1Z", "size": 64, "filled": true, "opacity": 1, "color": "#ff1a1a"},
      "encoding": {"x": {"datum": 12.8, "type": "quantitative", "scale": {"domain": [0, 325], "nice": false}},
                   "y": {"datum": 654, "type": "quantitative", "scale": {"domain": [-500, 6000], "nice": false}, "axis": null}}},
     {"data": {"values": [{}]}, "mark": {"type": "text", "text": "Δ = 4000", "font": "DejaVu Serif", "fontSize": 16, "color": "#222", "align": "center", "baseline": "middle"},
      "encoding": {"x": {"datum": 81, "type": "quantitative", "scale": {"domain": [0, 325], "nice": false}},
                   "y": {"datum": 4818, "type": "quantitative", "scale": {"domain": [-500, 6000], "nice": false}, "axis": null}}},
     {"data": {"values": [{}]}, "mark": {"type": "text", "text": "约为室温", "font": "Noto Sans CJK SC", "fontSize": 16, "color": "#ff2a2a", "align": "center", "baseline": "middle"},
      "encoding": {"x": {"datum": 58, "type": "quantitative", "scale": {"domain": [0, 325], "nice": false}},
                   "y": {"datum": 3790, "type": "quantitative", "scale": {"domain": [-500, 6000], "nice": false}, "axis": null}}},
     {"data": {"values": [{}]}, "mark": {"type": "text", "text": "的75%", "font": "Noto Sans CJK SC", "fontSize": 16, "color": "#ff2a2a", "align": "center", "baseline": "middle"},
      "encoding": {"x": {"datum": 54, "type": "quantitative", "scale": {"domain": [0, 325], "nice": false}},
                   "y": {"datum": 3280, "type": "quantitative", "scale": {"domain": [-500, 6000], "nice": false}, "axis": null}}},
     {"data": {"values": [{}]}, "mark": {"type": "rule", "color": "#000", "strokeWidth": 2},
      "encoding": {"x": {"datum": 205, "type": "quantitative", "scale": {"domain": [0, 325], "nice": false}}, "x2": {"datum": 240},
                   "y": {"datum": 5027, "type": "quantitative", "scale": {"domain": [-500, 6000], "nice": false}, "axis": null}}},
     {"data": {"values": [{}]}, "mark": {"type": "point", "shape": "triangle-left", "size": 110, "filled": true, "opacity": 1, "color": "#000"},
      "encoding": {"x": {"datum": 205.4, "type": "quantitative", "scale": {"domain": [0, 325], "nice": false}},
                   "y": {"datum": 5027, "type": "quantitative", "scale": {"domain": [-500, 6000], "nice": false}, "axis": null}}},
     {"data": {"values": [{}]}, "mark": {"type": "rule", "color": "#000", "strokeWidth": 2},
      "encoding": {"x": {"datum": 130, "type": "quantitative", "scale": {"domain": [0, 325], "nice": false}}, "x2": {"datum": 172},
                   "y": {"datum": 620, "type": "quantitative", "scale": {"domain": [-500, 6000], "nice": false}, "axis": null}}},
     {"data": {"values": [{}]}, "mark": {"type": "point", "shape": "triangle-right", "size": 110, "filled": true, "opacity": 1, "color": "#000"},
      "encoding": {"x": {"datum": 172.6, "type": "quantitative", "scale": {"domain": [0, 325], "nice": false}},
                   "y": {"datum": 620, "type": "quantitative", "scale": {"domain": [-500, 6000], "nice": false}, "axis": null}}},
     {"data": {"values": [{}]}, "mark": {"type": "text", "text": "PZN-0.15PT (四方相)", "font": "DejaVu Serif, Noto Sans CJK SC", "fontSize": 18, "color": "#111", "align": "center", "baseline": "middle"},
      "encoding": {"x": {"datum": 162.5, "type": "quantitative", "scale": {"domain": [0, 325], "nice": false}},
                   "y": {"datum": 6700, "type": "quantitative", "scale": {"domain": [-500, 6000], "nice": false}, "axis": null}}},
     {"data": {"values": [{}]}, "mark": {"type": "text", "text": "(b)", "font": "DejaVu Serif", "fontSize": 17, "color": "#111", "align": "center", "baseline": "middle"},
      "encoding": {"x": {"datum": -90, "type": "quantitative", "scale": {"domain": [0, 325], "nice": false}},
                   "y": {"datum": 6886, "type": "quantitative", "scale": {"domain": [-500, 6000], "nice": false}, "axis": null}}}
  ]}
 ]},
{"bounds": "flush", "spacing": 88,
 "resolve": {"scale": {"x": "independent", "y": "independent", "color": "independent"}, "legend": {"color": "independent"}},
 "hconcat": [
 {"width": 296, "height": 237,
  "layer": [
    {"data": {"name": "c_d15"},
     "mark": {"type": "point", "filled": true, "size": 60, "opacity": 1},
     "encoding": {
       "x": {"field": "T", "type": "quantitative", "scale": {"domain": [0, 323], "nice": false},
             "axis": {"title": "温度/K", "values": [0,25,50,75,100,125,150,175,200,225,250,275,300], "labelExpr": "datum.value % 100 === 0 ? datum.label : ''", "titleX": 125.5, "titleY": 46.3}},
       "y": {"field": "d", "type": "quantitative", "scale": {"domain": [0, 4000], "nice": false},
             "axis": {"title": "剪切压电系数/pC·N⁻¹", "format": "d", "values": [0,500,1000,1500,2000,2500,3000,3500,4000], "labelExpr": "datum.value % 1000 === 0 ? datum.label : ''", "titleX": -73.7, "titleY": 101.7}},
       "color": {"field": "s", "type": "nominal", "scale": {"domain": ["d₁₅ of PMN-0.28PT 单晶", "d₁₅ of PZN-0.15PT 单晶"], "range": ["#33e3d4", "#6464e6"]},
                 "legend": {"title": null, "legendX": 17.5, "legendY": 15.4, "symbolType": "circle", "symbolSize": 60, "labelFontSize": 16, "labelOffset": 5.5, "rowPadding": 0.2}}
     }},
    {"data": {"values": [{}]}, "mark": {"type": "point", "shape": "M1,0L0.966,0.036L0.866,0.07L0.707,0.099L0.5,0.121L0.259,0.135L0,0.14L-0.259,0.135L-0.5,0.121L-0.707,0.099L-0.866,0.07L-0.966,0.036L-1,0L-0.966,-0.036L-0.866,-0.07L-0.707,-0.099L-0.5,-0.121L-0.259,-0.135L0,-0.14L0.259,-0.135L0.5,-0.121L0.707,-0.099L0.866,-0.07L0.966,-0.036Z", "size": 22801, "angle": 312.3, "filled": false, "opacity": 1, "color": "#b8404c", "strokeWidth": 1.2, "strokeDash": [4, 3]},
     "encoding": {"x": {"datum": 67.6, "type": "quantitative", "scale": {"domain": [0, 323], "nice": false}},
                  "y": {"datum": 1367, "type": "quantitative", "scale": {"domain": [0, 4000], "nice": false}}}},
    {"data": {"values": [{}]}, "mark": {"type": "point", "shape": "M1,0L0.966,0.036L0.866,0.07L0.707,0.099L0.5,0.121L0.259,0.135L0,0.14L-0.259,0.135L-0.5,0.121L-0.707,0.099L-0.866,0.07L-0.966,0.036L-1,0L-0.966,-0.036L-0.866,-0.07L-0.707,-0.099L-0.5,-0.121L-0.259,-0.135L0,-0.14L0.259,-0.135L0.5,-0.121L0.707,-0.099L0.866,-0.07L0.966,-0.036Z", "size": 23104, "angle": 335.4, "filled": false, "opacity": 1, "color": "#b8404c", "strokeWidth": 1.2, "strokeDash": [4, 3]},
     "encoding": {"x": {"datum": 87.8, "type": "quantitative", "scale": {"domain": [0, 323], "nice": false}},
                  "y": {"datum": 569, "type": "quantitative", "scale": {"domain": [0, 4000], "nice": false}}}},
    {"data": {"values": [{}]}, "mark": {"type": "text", "text": "压电效应-温度", "font": "Noto Sans CJK SC", "fontSize": 18, "color": "#111", "align": "center", "baseline": "middle"},
     "encoding": {"x": {"datum": 161.5, "type": "quantitative", "scale": {"domain": [0, 323], "nice": false}},
                  "y": {"datum": 4420, "type": "quantitative", "scale": {"domain": [0, 4000], "nice": false}}}},
    {"data": {"values": [{}]}, "mark": {"type": "text", "text": "(c)", "font": "DejaVu Serif", "fontSize": 17, "color": "#111", "align": "center", "baseline": "middle"},
     "encoding": {"x": {"datum": -83.1, "type": "quantitative", "scale": {"domain": [0, 323], "nice": false}},
                  "y": {"datum": 4562, "type": "quantitative", "scale": {"domain": [0, 4000], "nice": false}}}}
  ]},
 {"width": 585, "height": 239.5,
  "view": {"stroke": null},
  "layer": [
    {"data": {"values": [{}]}, "mark": {"type": "rect", "color": "#e0e8e9"},
     "encoding": {"x": {"datum": 0, "type": "quantitative", "scale": {"domain": [0, 100], "nice": false}, "axis": null}, "x2": {"datum": 90.3},
                  "y": {"datum": 0, "type": "quantitative", "scale": {"domain": [0, 100], "nice": false}, "axis": null}, "y2": {"datum": 93}}},
    {"data": {"values": [{}]}, "mark": {"type": "rect", "color": "#b4dfdb"},
     "encoding": {"x": {"datum": 0, "type": "quantitative", "scale": {"domain": [0, 100], "nice": false}, "axis": null}, "x2": {"datum": 21.9},
                  "y": {"datum": 0, "type": "quantitative", "scale": {"domain": [0, 100], "nice": false}, "axis": null}, "y2": {"datum": 93}}},
    {"data": {"name": "d_curves"},
     "mark": {"type": "line", "strokeWidth": 3, "interpolate": "monotone"},
     "encoding": {
       "x": {"field": "x", "type": "quantitative", "scale": {"domain": [0, 100], "nice": false}, "axis": null},
       "y": {"field": "y", "type": "quantitative", "scale": {"domain": [0, 100], "nice": false}, "axis": null},
       "color": {"field": "s", "type": "nominal", "scale": {"domain": ["弛豫铁电单晶", "传统铁电单晶"], "range": ["#7451aa", "#70a84c"]},
                 "legend": {"title": null, "legendX": 184, "legendY": 42.2, "symbolType": "M-2,0L2,0", "symbolSize": 178, "symbolStrokeWidth": 2.5, "labelFont": "Noto Sans CJK SC", "labelFontSize": 16, "labelColor": "#333", "labelOffset": 14.35, "rowPadding": 1.3}}
     }},
    {"data": {"values": [{}]}, "mark": {"type": "rect", "fill": {"gradient": "linear", "x1": 0, "y1": 1, "x2": 0, "y2": 0, "stops": [{"offset": 0, "color": "#ffee10"}, {"offset": 0.5, "color": "#ff9a00"}, {"offset": 1, "color": "#ff2a00"}]}},
     "encoding": {"x": {"datum": 19.1, "type": "quantitative", "scale": {"domain": [0, 100], "nice": false}, "axis": null}, "x2": {"datum": 21.2},
                  "y": {"datum": 8.4, "type": "quantitative", "scale": {"domain": [0, 100], "nice": false}, "axis": null}, "y2": {"datum": 33.9}}},
    {"data": {"values": [{}]}, "mark": {"type": "point", "shape": "M0,-2.5L1,0L-1,0Z", "size": 576, "filled": true, "opacity": 1, "color": {"gradient": "linear", "x1": 0, "y1": 0, "x2": 0, "y2": 1, "stops": [{"offset": 0, "color": "#c80000"}, {"offset": 1, "color": "#ff2a00"}]}},
     "encoding": {"x": {"datum": 20.1, "type": "quantitative", "scale": {"domain": [0, 100], "nice": false}, "axis": null},
                  "y": {"datum": 33.9, "type": "quantitative", "scale": {"domain": [0, 100], "nice": false}, "axis": null}}},
    {"data": {"values": [{}]}, "mark": {"type": "text", "text": "这个“跳跃”是弛豫铁电单晶", "font": "Noto Sans CJK SC", "fontSize": 15.5, "color": "#ff1a1a", "align": "center", "baseline": "middle"},
     "encoding": {"x": {"datum": 41.7, "type": "quantitative", "scale": {"domain": [0, 100], "nice": false}, "axis": null},
                  "y": {"datum": 31.3, "type": "quantitative", "scale": {"domain": [0, 100], "nice": false}, "axis": null}}},
    {"data": {"values": [{}]}, "mark": {"type": "text", "text": "有超高压电性能的基础", "font": "Noto Sans CJK SC", "fontSize": 15.5, "color": "#ff1a1a", "align": "center", "baseline": "middle"},
     "encoding": {"x": {"datum": 41.7, "type": "quantitative", "scale": {"domain": [0, 100], "nice": false}, "axis": null},
                  "y": {"datum": 23.0, "type": "quantitative", "scale": {"domain": [0, 100], "nice": false}, "axis": null}}},
    {"data": {"values": [{}]}, "mark": {"type": "rect", "color": "#ee1c1c"},
     "encoding": {"x": {"datum": 51.2, "type": "quantitative", "scale": {"domain": [0, 100], "nice": false}, "axis": null}, "x2": {"datum": 52.4},
                  "y": {"datum": 0, "type": "quantitative", "scale": {"domain": [0, 100], "nice": false}, "axis": null}, "y2": {"datum": 5.3}}},
    {"data": {"values": [{}]}, "mark": {"type": "rule", "color": "#000", "strokeWidth": 2},
     "encoding": {"x": {"datum": 0, "type": "quantitative", "scale": {"domain": [0, 100], "nice": false}, "axis": null},
                  "y": {"datum": 0, "type": "quantitative", "scale": {"domain": [0, 100], "nice": false}, "axis": null}, "y2": {"datum": 100.8}}},
    {"data": {"values": [{}]}, "mark": {"type": "rule", "color": "#000", "strokeWidth": 2},
     "encoding": {"x": {"datum": 0, "type": "quantitative", "scale": {"domain": [0, 100], "nice": false}, "axis": null}, "x2": {"datum": 98.5},
                  "y": {"datum": 0, "type": "quantitative", "scale": {"domain": [0, 100], "nice": false}, "axis": null}}},
    {"data": {"values": [{}]}, "mark": {"type": "point", "shape": "triangle-up", "size": 196, "filled": true, "opacity": 1, "color": "#000"},
     "encoding": {"x": {"datum": 0, "type": "quantitative", "scale": {"domain": [0, 100], "nice": false}, "axis": null},
                  "y": {"datum": 101, "type": "quantitative", "scale": {"domain": [0, 100], "nice": false}, "axis": null}}},
    {"data": {"values": [{}]}, "mark": {"type": "point", "shape": "triangle-right", "size": 196, "filled": true, "opacity": 1, "color": "#000"},
     "encoding": {"x": {"datum": 99, "type": "quantitative", "scale": {"domain": [0, 100], "nice": false}, "axis": null},
                  "y": {"datum": 0, "type": "quantitative", "scale": {"domain": [0, 100], "nice": false}, "axis": null}}},
    {"data": {"values": [{}]}, "mark": {"type": "text", "text": "相变", "font": "Noto Sans CJK SC", "fontSize": 18, "color": "#222", "align": "center", "baseline": "middle"},
     "encoding": {"x": {"datum": 95.6, "type": "quantitative", "scale": {"domain": [0, 100], "nice": false}, "axis": null},
                  "y": {"datum": 89.6, "type": "quantitative", "scale": {"domain": [0, 100], "nice": false}, "axis": null}}},
    {"data": {"values": [{}]}, "mark": {"type": "text", "text": "室温", "font": "Noto Sans CJK SC", "fontSize": 18, "color": "#222", "align": "center", "baseline": "middle"},
     "encoding": {"x": {"datum": 51.6, "type": "quantitative", "scale": {"domain": [0, 100], "nice": false}, "axis": null},
                  "y": {"datum": -7.85, "type": "quantitative", "scale": {"domain": [0, 100], "nice": false}, "axis": null}}},
    {"data": {"values": [{}]}, "mark": {"type": "text", "text": "温度", "font": "Noto Sans CJK SC", "fontSize": 18, "color": "#222", "align": "center", "baseline": "middle"},
     "encoding": {"x": {"datum": 96.2, "type": "quantitative", "scale": {"domain": [0, 100], "nice": false}, "axis": null},
                  "y": {"datum": -9.7, "type": "quantitative", "scale": {"domain": [0, 100], "nice": false}, "axis": null}}},
    {"data": {"values": [{}]}, "mark": {"type": "text", "text": "介电/压电响应", "angle": 270, "font": "Noto Sans CJK SC", "fontSize": 18, "color": "#222", "align": "center", "baseline": "middle"},
     "encoding": {"x": {"datum": -4.4, "type": "quantitative", "scale": {"domain": [0, 100], "nice": false}, "axis": null},
                  "y": {"datum": 49.2, "type": "quantitative", "scale": {"domain": [0, 100], "nice": false}, "axis": null}}},
    {"data": {"values": [{}]}, "mark": {"type": "text", "text": "(d)", "font": "DejaVu Serif", "fontSize": 17, "color": "#111", "align": "center", "baseline": "middle"},
     "encoding": {"x": {"datum": -3.1, "type": "quantitative", "scale": {"domain": [0, 100], "nice": false}, "axis": null},
                  "y": {"datum": 114.3, "type": "quantitative", "scale": {"domain": [0, 100], "nice": false}, "axis": null}}}
  ]}
 ]}
]
}
